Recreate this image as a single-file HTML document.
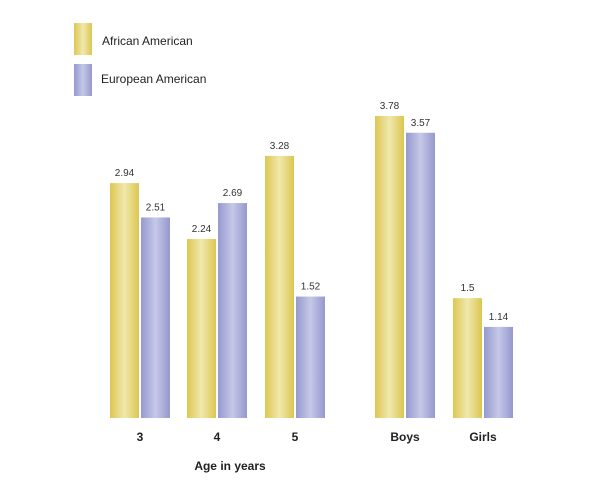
<!DOCTYPE html>
<html><head><meta charset="utf-8"><style>
body{margin:0;background:#fff;font-family:"Liberation Sans",sans-serif}
</style></head><body>
<svg id="chart" width="600" height="488" xmlns="http://www.w3.org/2000/svg">
<defs>
<linearGradient id="gy" x1="0" x2="1" y1="0" y2="0"><stop offset="0" stop-color="#ddc752"/><stop offset="0.5" stop-color="#f0e8ad"/><stop offset="1" stop-color="#dcc650"/></linearGradient>
<linearGradient id="gb" x1="0" x2="1" y1="0" y2="0"><stop offset="0" stop-color="#9599cd"/><stop offset="0.5" stop-color="#c6c8e8"/><stop offset="1" stop-color="#9498cc"/></linearGradient>
</defs>
<rect x="74" y="23" width="18" height="32" fill="url(#gy)"/>
<text x="102" y="45" font-size="12" fill="#222">African American</text>
<rect x="74" y="64" width="18" height="32" fill="url(#gb)"/>
<text x="101" y="83" font-size="12" fill="#222">European American</text>
<text x="230" y="470" font-size="12" font-weight="bold" text-anchor="middle" fill="#222">Age in years</text>
<g id="bars"></g>
</svg>
<script>
const categories=["3","4","5","Boys","Girls"];
const africanAmerican=[2.94,2.24,3.28,3.78,1.5];
const europeanAmerican=[2.51,2.69,1.52,3.57,1.14];
const africanLabels=["2.94","2.24","3.28","3.78","1.5"];
const europeanLabels=["2.51","2.69","1.52","3.57","1.14"];
const groupX=[110,187,265,375,453];
const baseY=418, scale=79.9, bw=29;
const y=v=>baseY-v*scale;
const g=document.getElementById('bars');
const NS="http://www.w3.org/2000/svg";
function mk(t,a){const e=document.createElementNS(NS,t);for(const k in a)e.setAttribute(k,a[k]);return e;}
categories.forEach((c,i)=>{
  const x0=groupX[i];
  [[africanAmerican,africanLabels,"url(#gy)",0,"african"],[europeanAmerican,europeanLabels,"url(#gb)",31,"european"]].forEach(s=>{
    const v=s[0][i];
    const r=mk('rect',{x:x0+s[3],y:y(v),width:bw,height:v*scale,fill:s[2]});
    
    
    g.appendChild(r);
    const t=mk('text',{x:x0+s[3]+bw/2,y:y(v)-7,'font-size':10,'text-anchor':'middle',fill:'#333'});
    t.textContent=s[1][i];
    
    
    g.appendChild(t);
  });
  const l=mk('text',{x:x0+30,y:441,'font-size':12,'font-weight':'bold','text-anchor':'middle',fill:'#222'});
  l.textContent=c;
  
  
  g.appendChild(l);
});
</script>
</body></html>
